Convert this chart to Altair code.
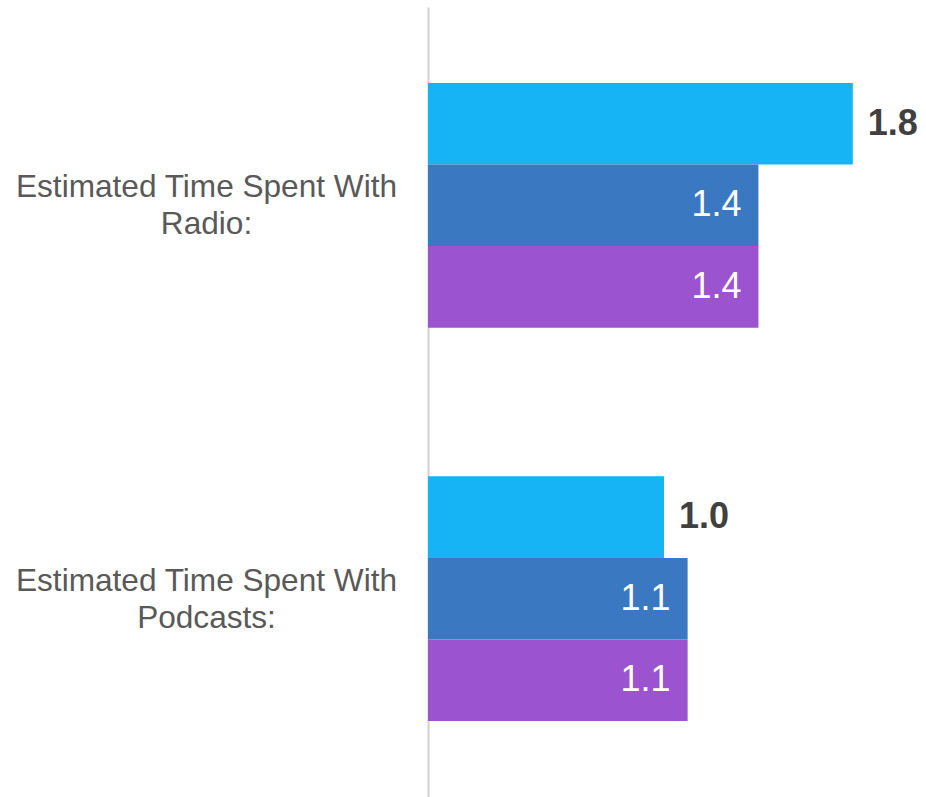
import altair as alt
import pandas as pd

categories = ["Estimated Time Spent With\nRadio:", "Estimated Time Spent With\nPodcasts:"]
series = ["Series 1", "Series 2", "Series 3"]
colors = ["#16B4F4", "#3B78C2", "#9B53CF"]
radio = [1.8, 1.4, 1.4]
podcasts = [1.0, 1.1, 1.1]

rows = []
for cat, vals in zip(categories, [radio, podcasts]):
    for s, v in zip(series, vals):
        rows.append({"category": cat, "series": s, "value": v, "label": f"{v:.1f}"})
df = pd.DataFrame(rows)

FONT = "Liberation Sans"

base = alt.Chart(df).encode(
    y=alt.Y(
        "category:N",
        sort=categories,
        scale=alt.Scale(paddingInner=0.378, paddingOuter=0.193),
        axis=alt.Axis(
            title=None,
            ticks=False,
            tickSize=0,
            labelExpr="split(datum.label, '\\n')",
            labelAlign="center",
            labelBaseline="middle",
            labelPadding=222,
            labelOffset=-17,
            labelFontSize=31.6,
            labelFont=FONT,
            labelColor="#595959",
            labelLineHeight=37,
            labelLimit=600,
            domainColor="#d0d0d0",
            domainWidth=2,
        ),
    ),
    yOffset=alt.YOffset("series:N", sort=series, scale=alt.Scale(paddingInner=0, paddingOuter=0)),
    x=alt.X("value:Q", scale=alt.Scale(domain=[0, 2.11], nice=False, zero=True), axis=None),
)

bars = base.mark_bar().encode(
    color=alt.Color("series:N", sort=series, scale=alt.Scale(domain=series, range=colors), legend=None)
)

outside = base.transform_filter(alt.datum.series == "Series 1").mark_text(
    align="left", baseline="middle", dx=15, font=FONT, fontSize=36, fontWeight="bold", color="#404040"
).encode(text="label:N")

inside = base.transform_filter(alt.datum.series != "Series 1").mark_text(
    align="right", baseline="middle", dx=-17, font=FONT, fontSize=36, color="#FFFFFF"
).encode(text="label:N")

chart = (
    alt.layer(bars, outside, inside)
    .properties(
        width=498,
        height=790,
        autosize=alt.AutoSizeParams(type="none"),
        padding={"left": 428, "top": 7, "right": 0, "bottom": 0},
        background="white",
    )
    .configure_view(stroke=None)
)

chart.save("out.html", embed_options={"renderer": "svg", "actions": False})
